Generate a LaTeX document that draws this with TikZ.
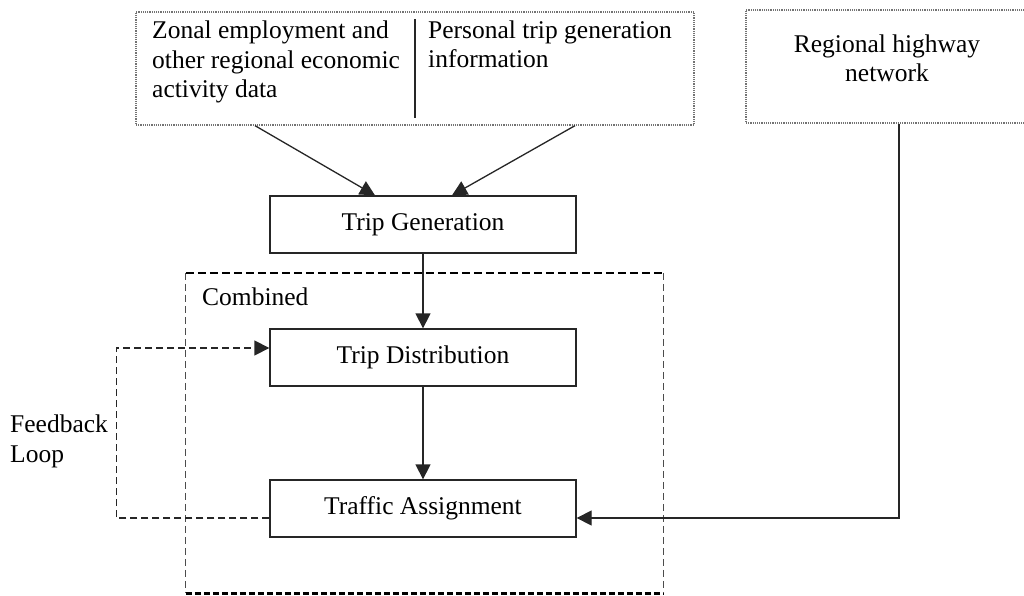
\documentclass[tikz,border=0pt]{standalone}
\usepackage{fontspec}
\setmainfont{Liberation Serif}
\usetikzlibrary{arrows.meta,calc}
\begin{document}
\begin{tikzpicture}[x=1pt,y=-1pt,
  every node/.style={font=\fontsize{25.5}{29.5}\selectfont},
  stagebox/.style={draw=black!85, line width=1.3pt, minimum width=306pt, minimum height=57pt, inner sep=0pt},
  dotbox/.style={draw=black!55, line width=1.3pt, dash pattern=on 1.2pt off 1pt, inner sep=0pt},
  flow/.style={line width=1.3pt, draw=black!85, -{Triangle[length=15pt,width=15pt]}},
  loopline/.style={line width=1.3pt, dash pattern=on 7pt off 4pt, draw=black!85},
  label/.style={inner sep=0pt, align=left, anchor=base west}]
\useasboundingbox (0,0) rectangle (1024,596);

% input data boxes (multi-line labels are placed by their last baseline)
\node[dotbox, minimum width=558pt, minimum height=113pt] (data) at (415,68.5) {};
\node[dotbox, minimum width=294pt, minimum height=113pt] (hw) at (893,66.5) {};
\draw[line width=1.3pt, black!85] ([yshift=-8pt]data.north) -- ([yshift=8pt]data.south);
\node[label] (zonal) at (152,98) {Zonal employment and\\other regional economic\\activity data};
\node[label] (personal) at (428,68) {Personal trip generation\\information};
\node[inner sep=0pt, align=center, anchor=base] (hwtext) at (887,82) {Regional highway\\network};

% model stages
\node[stagebox] (tg) at (423,224.5) {Trip Generation};
\node[stagebox] (td) at (423,357.5) {Trip Distribution};
\node[stagebox] (ta) at (423,508.5) {Traffic Assignment};

% combined region
\node[inner sep=0pt, minimum width=477pt, minimum height=320pt] (comb) at (424.5,433) {};
\draw[line width=2pt, dash pattern=on 8pt off 4pt] (comb.north west) -- (comb.north east);
\draw[line width=3pt, dash pattern=on 6pt off 3pt] (comb.south west) -- (comb.south east);
\draw[line width=1.2pt, black!70, dash pattern=on 7pt off 4pt] (comb.north west) -- (comb.south west);
\draw[line width=1.2pt, black!70, dash pattern=on 7pt off 4pt] (comb.north east) -- (comb.south east);
\node[label] (comblabel) at (202,305) {Combined};

% flows
\draw[flow] ([xshift=-160pt]data.south) -- ([xshift=-48pt]tg.north);
\draw[flow] ([xshift=160pt]data.south) -- ([xshift=29pt]tg.north);
\draw[flow] (tg.south) -- (td.north);
\draw[flow] (td.south) -- (ta.north);
\draw[flow] ([xshift=6pt]hw.south) |- ([yshift=-9.5pt]ta.east);

% feedback loop
\draw[loopline, -{Triangle[length=15pt,width=15pt]}] ([yshift=-9.5pt]ta.west) -- ++(-153,0) |- ([yshift=9.5pt]td.west);
\node[label] (fb) at (10,462) {Feedback\\Loop};
\end{tikzpicture}
\end{document}
